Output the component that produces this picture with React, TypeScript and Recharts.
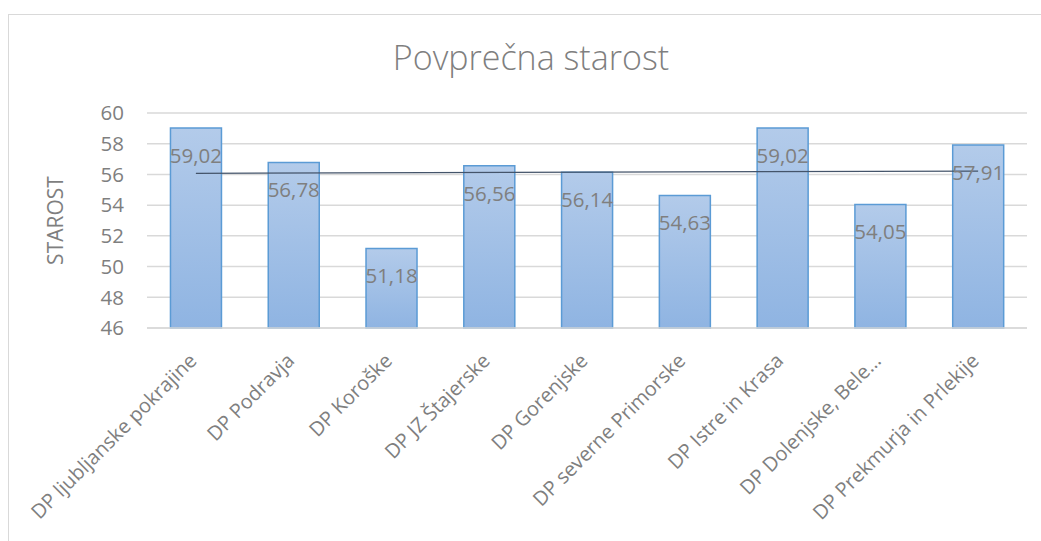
import React from "react";
import { ComposedChart, Bar, Line, XAxis, YAxis, CartesianGrid, LabelList } from "recharts";

const categories = [
  "DP ljubljanske pokrajine",
  "DP Podravja",
  "DP Koroške",
  "DP JZ Štajerske",
  "DP Gorenjske",
  "DP severne Primorske",
  "DP Istre in Krasa",
  "DP Dolenjske, Bele…",
  "DP Prekmurja in Prlekije",
];
const values = [59.02, 56.78, 51.18, 56.56, 56.14, 54.63, 59.02, 54.05, 57.91];
// linear trendline endpoints (first and last category)
const trend = [56.07, null, null, null, null, null, null, null, 56.22];
const yTicks = [46, 48, 50, 52, 54, 56, 58, 60];

const data = categories.map((c, i) => ({ name: c, value: values[i], trend: trend[i] }));

const FONT = "'Open Sans', sans-serif";
const GRAY = "#7f7f7f";

const XTick = (props: any) => {
  const { x, y, payload } = props;
  const ax = x + 2;
  const ay = y + 26;
  return (
    <text
      x={ax}
      y={ay}
      transform={`rotate(-45, ${ax}, ${ay})`}
      textAnchor="end"
      fontSize={20}
      fontFamily={FONT}
      fill={GRAY}
    >
      {payload.value}
    </text>
  );
};

const BarLabel = (props: any) => {
  const { x, y, width, value } = props;
  return (
    <text
      x={x + width / 2}
      y={y + 27}
      textAnchor="middle"
      dominantBaseline="central"
      fontSize={20.5}
      fontFamily={FONT}
      fill={GRAY}
    >
      {String(value.toFixed(2)).replace(".", ",")}
    </text>
  );
};

export default function App() {
  return (
    <div style={{ position: "absolute", left: 0, top: 0, width: 1041, height: 541, background: "#fff", overflow: "hidden" }}>
      <div
        style={{
          position: "absolute",
          left: 8,
          top: 14,
          width: 1040,
          height: 540,
          border: "1px solid #d9d9d9",
          boxSizing: "border-box",
        }}
      />
      <div style={{ position: "absolute", left: 0, top: 0 }}>
        <ComposedChart
          width={1041}
          height={541}
          data={data}
          margin={{ top: 113, right: 14, bottom: 0, left: 0 }}
          barCategoryGap="24%"
        >
          <defs>
            <linearGradient id="barGrad" x1="0" y1="0" x2="0" y2="1">
              <stop offset="0%" stopColor="#b3cbea" />
              <stop offset="100%" stopColor="#8fb4e2" />
            </linearGradient>
          </defs>
          <text
            x={531}
            y={70}
            textAnchor="middle"
            fontSize={34}
            fontWeight={300}
            fontFamily={FONT}
            fill={GRAY}
          >
            Povprečna starost
          </text>
          <CartesianGrid vertical={false} stroke="#d9d9d9" strokeWidth={1.5} />
          <XAxis
            dataKey="name"
            interval={0}
            tickLine={false}
            axisLine={{ stroke: "#d9d9d9", strokeWidth: 1.5 }}
            tick={<XTick />}
            height={213}
          />
          <YAxis
            domain={[46, 60]}
            ticks={yTicks}
            width={147}
            axisLine={false}
            tickLine={false}
            tickMargin={17}
            tick={{ fontSize: 20.5, fontFamily: FONT, fill: GRAY }}
            label={{
              value: "STAROST",
              angle: -90,
              position: "insideLeft",
              offset: 56,
              style: { fontSize: 21, fontFamily: FONT, fill: GRAY, textAnchor: "middle" },
            }}
          />
          <Bar dataKey="value" fill="url(#barGrad)" stroke="#5b9bd5" strokeWidth={1.5} isAnimationActive={false}>
            <LabelList dataKey="value" content={<BarLabel />} />
          </Bar>
          <Line
            dataKey="trend"
            stroke="#44546a"
            strokeWidth={1.3}
            dot={false}
            connectNulls
            isAnimationActive={false}
            legendType="none"
          />
        </ComposedChart>
      </div>
    </div>
  );
}
